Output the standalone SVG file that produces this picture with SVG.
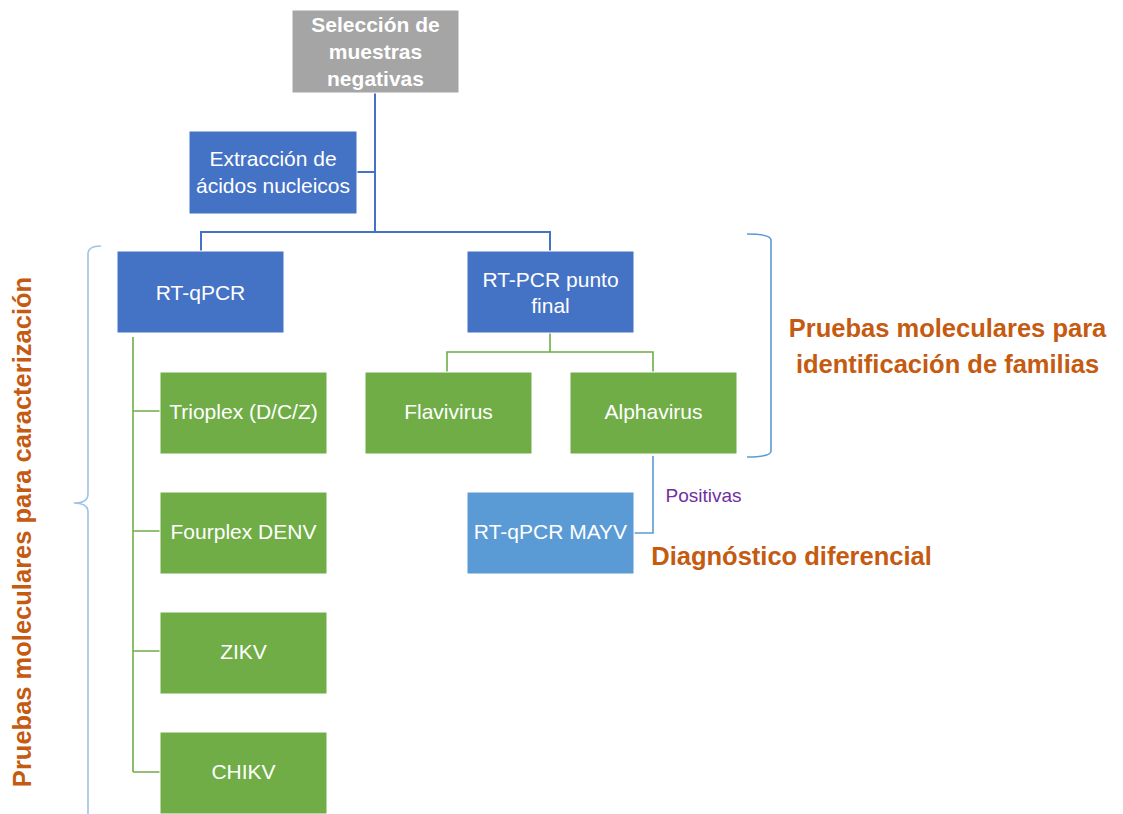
<svg xmlns="http://www.w3.org/2000/svg" width="1123" height="814" viewBox="0 0 1123 814">
<style>
text{font-family:"Liberation Sans",Arial,sans-serif;fill:#fff;text-anchor:middle;dominant-baseline:central}
.b{font-size:21px}
.bold{font-weight:bold}
.or{fill:#c55a11;font-weight:bold;font-size:25.5px}
.blue{fill:#4472c4;stroke:#fff;stroke-width:1}
.green{fill:#70ad47;stroke:#fff;stroke-width:1}
.lb{fill:#5b9bd5;stroke:#fff;stroke-width:1}
.cb{stroke:#4472c4;stroke-width:2;fill:none}
.cg{stroke:#70ad47;stroke-width:1.6;fill:none}
.cl{stroke:#5b9bd5;stroke-width:1.6;fill:none}
.br{stroke:#9dc3e6;stroke-width:1.6;fill:none}
</style>
<rect width="1123" height="814" fill="#fff"/>
<g id="connectors">
<path class="cb" d="M375 93V232M357 172H375M201 251V232H550V251"/>
<path class="cg" d="M550 333V352M447 372V352H653V372"/>
<path class="cg" d="M133 337V772M133 411H160M133 531H160M133 651H160M133 772H160"/>
<path class="cl" d="M653 456V533H634"/>
</g>
<g id="brace-left"><path class="br" d="M101 246Q88 246 88 254V494Q88 503 74 503Q88 503 88 512V814"/></g>
<g id="brace-right"><path class="cl" d="M747 234Q771 234 771 240V451Q771 457 747 457"/></g>
<g id="n-seleccion"><rect x="292" y="10" width="167" height="83" fill="#a5a5a5" stroke="#fff"/>
<text class="b bold" x="375.5" y="24">Selección de</text><text class="b bold" x="375.5" y="51">muestras</text><text class="b bold" x="375.5" y="78">negativas</text></g>
<g id="n-extraccion"><rect x="189" y="131" width="168" height="83" class="blue" stroke="#d9d9d9"/>
<text class="b" x="273" y="158">Extracción  de</text><text class="b" x="273" y="185">ácidos nucleicos</text></g>
<g id="n-rtqpcr"><rect x="117" y="251" width="167" height="82" class="blue"/><text class="b" x="200.5" y="292">RT-qPCR</text></g>
<g id="n-rtpcr"><rect x="467" y="251" width="167" height="82" class="blue"/><text class="b" x="550.5" y="279">RT-PCR punto</text><text class="b" x="550.5" y="305">final</text></g>
<g id="n-flavi"><rect x="365" y="372" width="167" height="82" class="green"/><text class="b" x="448.5" y="411">Flavivirus</text></g>
<g id="n-alpha"><rect x="570" y="372" width="167" height="82" class="green"/><text class="b" x="653.5" y="411">Alphavirus</text></g>
<g id="n-mayv"><rect x="467" y="492" width="167" height="82" class="lb"/><text class="b" x="550.5" y="531">RT-qPCR MAYV</text></g>
<g id="n-trioplex"><rect x="160" y="372" width="167" height="82" class="green"/><text class="b" x="243.5" y="411">Trioplex (D/C/Z)</text></g>
<g id="n-fourplex"><rect x="160" y="492" width="167" height="82" class="green"/><text class="b" x="243.5" y="531">Fourplex DENV</text></g>
<g id="n-zikv"><rect x="160" y="612" width="167" height="82" class="green"/><text class="b" x="243.5" y="651">ZIKV</text></g>
<g id="n-chikv"><rect x="160" y="732" width="167" height="82" class="green"/><text class="b" x="243.5" y="771">CHIKV</text></g>
<text x="703.5" y="495" style="fill:#7030a0;font-size:19px">Positivas</text>
<text class="or" x="791.5" y="556">Diagnóstico diferencial</text>
<text class="or" x="947.5" y="328">Pruebas moleculares para</text>
<text class="or" x="947.5" y="364">identificación de familias</text>
<text class="or" transform="translate(22 532) rotate(-90)" x="0" y="0">Pruebas moleculares para caracterización</text>
</svg>
